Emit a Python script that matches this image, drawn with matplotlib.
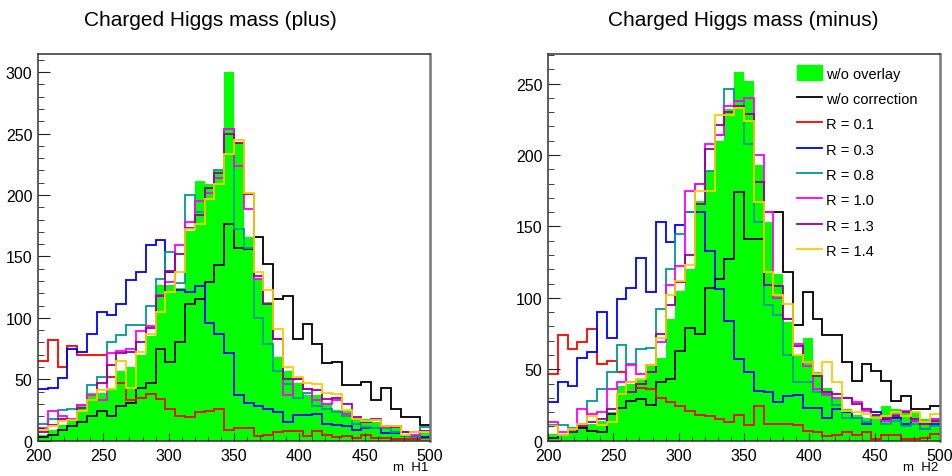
import numpy as np
import matplotlib
matplotlib.use('Agg')
import matplotlib.pyplot as plt
from matplotlib.ticker import MultipleLocator
from matplotlib.patches import Patch
from matplotlib.lines import Line2D

plt.rcParams['font.family'] = ['Liberation Sans', 'DejaVu Sans']

# binning: 40 bins of 7.5 between 200 and 500
x_lo, x_hi, n_bins = 200, 500, 40
edges = np.linspace(x_lo, x_hi, n_bins + 1)

labels = ['w/o overlay', 'w/o correction', 'R = 0.1', 'R = 0.3',
          'R = 0.8', 'R = 1.0', 'R = 1.3', 'R = 1.4']
colors = ['#00ff00', 'black', '#ff0000', '#0000ff',
          '#009999', '#ff00ff', '#990099', '#ffcc00']

# ---- H1 (plus) ----
green_L = [5, 9, 13, 18, 30, 39, 39, 43, 57, 60,
           70, 85, 127, 127, 124, 171, 211, 209, 220, 300,
           243, 166, 132, 113, 68, 57, 47, 37, 37, 30,
           25, 24, 18, 18, 15, 10, 10, 4, 5, 7]
black_L = [3, 5, 9, 12, 15, 20, 24, 20, 28, 31,
           43, 47, 75, 64, 80, 111, 115, 129, 143, 176,
           157, 156, 166, 144, 115, 118, 83, 95, 79, 63,
           64, 45, 45, 48, 33, 43, 26, 19, 19, 13]
red_L = [65, 82, 60, 77, 70, 70, 70, 52, 47, 33,
         35, 38, 34, 26, 20, 19, 23, 24, 26, 9,
         10, 10, 4, 5, 7, 8, 8, 4, 8, 5,
         3, 4, 2, 5, 2, 2, 1, 1, 1, 2]
blue_L = [42, 43, 51, 75, 72, 87, 105, 102, 111, 131,
          137, 159, 163, 137, 123, 121, 126, 96, 87, 71,
          37, 31, 28, 26, 23, 15, 21, 21, 22, 14,
          13, 12, 9, 10, 10, 6, 6, 4, 4, 3]
teal_L = [14, 18, 25, 26, 29, 45, 52, 80, 86, 94,
          94, 110, 132, 154, 128, 200, 186, 206, 220, 254,
          172, 157, 100, 79, 57, 46, 35, 39, 28, 26,
          23, 20, 14, 11, 10, 10, 7, 4, 3, 11]
magenta_L = [10, 24, 20, 18, 29, 37, 33, 71, 73, 75,
             89, 93, 119, 129, 159, 178, 195, 202, 214, 254,
             224, 189, 132, 111, 83, 37, 50, 42, 33, 30,
             33, 22, 18, 16, 17, 11, 12, 7, 5, 8]
purple_L = [7, 13, 18, 17, 27, 33, 47, 62, 71, 72,
            80, 92, 118, 138, 152, 173, 184, 206, 218, 250,
            242, 201, 134, 111, 83, 50, 50, 42, 41, 34,
            35, 30, 19, 15, 18, 12, 11, 7, 7, 8]
orange_L = [9, 12, 16, 17, 24, 33, 41, 42, 65, 43,
            72, 87, 105, 121, 137, 172, 176, 197, 209, 233,
            245, 202, 137, 123, 91, 60, 52, 47, 46, 39,
            38, 25, 18, 16, 17, 12, 12, 5, 7, 7]

# ---- H2 (minus) ----
green_R = [5, 4, 8, 10, 12, 14, 20, 38, 40, 44,
           52, 58, 85, 105, 120, 168, 189, 210, 232, 258,
           252, 193, 153, 117, 83, 60, 72, 48, 37, 30,
           22, 18, 16, 17, 24, 22, 20, 20, 15, 16]
black_R = [2, 4, 6, 9, 7, 6, 19, 23, 28, 29,
           25, 41, 43, 63, 79, 75, 107, 113, 127, 174,
           141, 141, 160, 160, 118, 81, 104, 85, 74, 74,
           55, 42, 54, 49, 42, 28, 31, 22, 22, 24]
red_R = [47, 74, 64, 69, 78, 54, 56, 48, 41, 37,
         36, 30, 27, 24, 21, 18, 17, 15, 13, 18,
         11, 24, 12, 12, 12, 11, 7, 6, 3, 4,
         6, 4, 6, 1, 4, 4, 1, 1, 2, 5]
blue_R = [27, 41, 38, 58, 62, 90, 72, 99, 107, 128,
          104, 153, 139, 151, 160, 160, 133, 106, 84, 57,
          48, 35, 34, 27, 31, 32, 23, 23, 16, 22,
          20, 16, 12, 20, 15, 16, 12, 14, 8, 12]
teal_R = [11, 11, 9, 12, 28, 36, 48, 67, 54, 64,
          65, 92, 120, 145, 160, 180, 189, 214, 246, 238,
          208, 153, 95, 88, 60, 41, 41, 34, 32, 25,
          16, 16, 13, 16, 12, 14, 10, 12, 8, 10]
magenta_R = [13, 6, 8, 22, 19, 20, 36, 41, 53, 47,
             53, 69, 109, 122, 175, 180, 208, 214, 234, 238,
             240, 200, 160, 100, 85, 68, 52, 36, 33, 30,
             30, 27, 21, 18, 14, 18, 21, 14, 12, 15]
purple_R = [10, 4, 6, 10, 13, 15, 22, 33, 34, 40,
            48, 75, 95, 111, 130, 166, 204, 221, 230, 234,
            229, 181, 109, 108, 85, 66, 55, 45, 34, 33,
            30, 26, 22, 18, 16, 17, 20, 15, 12, 14]
orange_R = [10, 4, 8, 12, 17, 11, 13, 33, 41, 43,
            53, 72, 102, 112, 123, 175, 175, 228, 228, 233,
            224, 167, 118, 102, 96, 60, 55, 47, 55, 41,
            21, 20, 19, 16, 17, 20, 17, 20, 13, 19]


def draw_panel(ax, hists, xlabel):
    ax.stairs(hists[0], edges, fill=True, color=colors[0], lw=0)
    for vals, col in zip(hists[1:], colors[1:]):
        ax.stairs(vals, edges, color=col, lw=1.3, baseline=None)
    ax.set_xlim(x_lo, x_hi)
    ax.set_ylim(0, max(hists[0]) * 1.05)
    ax.xaxis.set_major_locator(MultipleLocator(50))
    ax.xaxis.set_minor_locator(MultipleLocator(10))
    ax.yaxis.set_major_locator(MultipleLocator(50))
    ax.yaxis.set_minor_locator(MultipleLocator(10))
    ax.tick_params(which='both', direction='in', top=False, right=False,
                   labelsize=11.5, color='#222222')
    ax.tick_params(axis='y', which='major', length=8.5, pad=4)
    ax.tick_params(axis='y', which='minor', length=4.5)
    ax.tick_params(axis='x', which='major', length=6, pad=5)
    ax.tick_params(axis='x', which='minor', length=3.5)
    for s in ax.spines.values():
        s.set_linewidth(1.1)
        s.set_color('#333333')
    ax.spines['right'].set_color('#777777')
    ax.spines['right'].set_linewidth(1.8)
    ax.text(0.995, -0.053, xlabel, transform=ax.transAxes, ha='right',
            va='top', fontsize=9.5)


fig = plt.figure(figsize=(9.53, 4.77), dpi=100)
ax_l = fig.add_axes([38 / 953, 35.3 / 477, 392 / 953, 387 / 477])
ax_r = fig.add_axes([548 / 953, 35.3 / 477, 392 / 953, 387 / 477])

draw_panel(ax_l, [green_L, black_L, red_L, blue_L, teal_L, magenta_L,
                  purple_L, orange_L], 'm  H1')
draw_panel(ax_r, [green_R, black_R, red_R, blue_R, teal_R, magenta_R,
                  purple_R, orange_R], 'm  H2')

fig.text(210 / 953, 1 - 21 / 477, 'Charged Higgs mass (plus)',
         ha='center', va='center', fontsize=15)
fig.text(743 / 953, 1 - 21 / 477, 'Charged Higgs mass (minus)',
         ha='center', va='center', fontsize=15)

handles = [Patch(facecolor=colors[0], edgecolor=colors[0])]
handles += [Line2D([], [], color=c, lw=1.3) for c in colors[1:]]
ax_r.legend(handles, labels, loc='upper left', bbox_to_anchor=(0.62, 0.985),
            frameon=False, fontsize=10.5, handlelength=1.75,
            handleheight=1.15, labelspacing=0.7, handletextpad=0.25,
            borderaxespad=0)

fig.savefig('out.png', dpi=100)
